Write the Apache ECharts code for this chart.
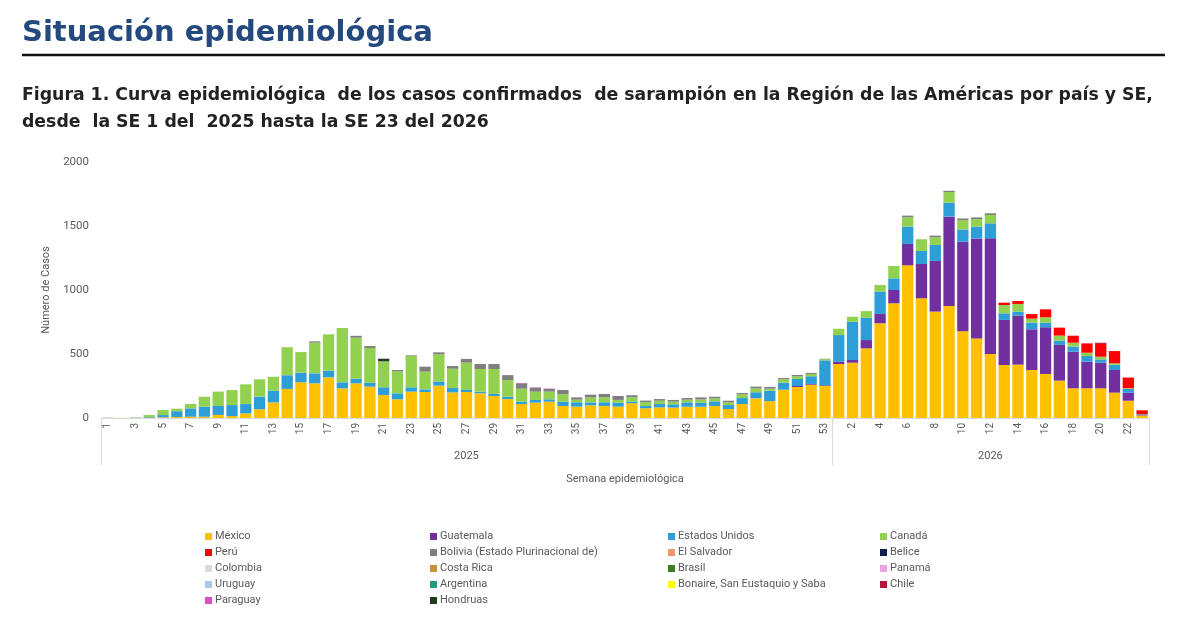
<!DOCTYPE html>
<html>
<head>
<meta charset="utf-8">
<script src="https://cdn.jsdelivr.net/npm/echarts@6/dist/echarts.min.js"></script>
<style>html,body{margin:0;padding:0;background:#fff;}#c{width:1200px;height:644px;}</style>
</head>
<body>
<div id="c"></div>
<script>
// ---- Tick labels / categories ----
const weekNumbers = [
  1,2,3,4,5,6,7,8,9,10,11,12,13,14,15,16,17,18,19,20,21,22,23,24,25,26,27,28,29,30,
  31,32,33,34,35,36,37,38,39,40,41,42,43,44,45,46,47,48,49,50,51,52,53,
  1,2,3,4,5,6,7,8,9,10,11,12,13,14,15,16,17,18,19,20,21,22,23
];
const yearLabels = ['2025', '2026'];
const weeksPerYear = [53, 23];
const yTicks = [0, 500, 1000, 1500, 2000];

// ---- Series values (2025 SE1-53, then 2026 SE1-23) ----
const mexico = [
  0,0,0,3,5,8,10,10,24,15, 36,68,122,227,279,271,318,232,271,245, 180,146,206,203,253,200,203,193,172,148,
  109,120,128,94,89,99,94,89,115,76, 83,81,88,88,94,70,109,154,132,221, 242,260,250,
  422,432,544,740,896,1193,935,831,875,677, 622,500,414,417,375,344,292,232,232,232, 198,135,20
];
const guatemala = [
  0,0,0,0,0,0,0,0,0,0, 0,0,0,0,0,0,0,0,0,0, 0,0,0,0,0,0,0,0,0,0,
  0,0,0,0,0,0,0,0,0,0, 0,0,0,0,0,0,0,0,0,0, 8,6,5,
  18,21,65,73,104,167,268,396,698,700, 781,904,352,383,318,365,279,286,208,200, 177,62,5
];
const estadosUnidos = [
  0,0,2,5,18,45,65,78,70,86, 73,99,91,107,75,78,52,47,36,31, 60,47,34,21,31,34,16,13,16,18,
  18,21,18,34,34,23,29,31,13,18, 26,26,34,31,36,31,47,47,81,55, 55,60,195,
  208,299,174,174,91,135,102,125,109,96, 91,117,52,31,52,36,34,39,44,26, 40,30,5
];
const canada = [
  3,1,3,15,39,20,34,78,112,117, 154,135,109,219,161,240,284,424,320,271, 203,172,245,138,213,151,214,177,195,130,
  102,65,60,57,20,39,39,21,34,29, 26,21,21,26,23,21,29,31,16,26, 21,18,10,
  49,39,52,52,96,73,91,60,83,73, 60,65,65,60,31,42,39,31,26,21, 12,6,0
];
const peru = [
  0,0,0,0,0,0,0,0,0,0, 0,0,0,0,0,0,0,0,0,0, 0,0,0,0,0,0,0,0,0,0,
  0,0,0,0,0,0,0,0,0,0, 0,0,0,0,0,0,0,0,0,0, 0,0,0,
  0,0,0,0,0,0,0,0,0,0, 0,0,18,23,36,62,62,55,73,100, 96,83,30
];
const bolivia = [
  0,0,0,0,0,0,0,0,0,0, 0,0,0,0,0,10,0,0,15,15, 0,10,5,39,16,21,29,39,39,39,
  42,31,21,34,18,21,26,31,16,13, 13,13,13,16,13,13,10,13,13,10, 10,8,3,
  0,0,0,0,0,13,0,13,10,13, 13,13,0,0,0,0,0,0,0,0, 0,0,0
];
const elSalvador = [
  0,0,0,0,0,0,0,0,0,0, 0,0,0,0,0,0,0,0,0,0, 0,0,0,0,0,0,0,0,0,0,
  0,0,0,0,0,0,0,0,0,0, 0,0,0,0,0,0,0,0,0,0, 0,0,0,
  0,0,0,0,0,0,0,0,0,0, 0,0,0,0,0,0,0,0,0,0, 0,0,0
];
const belice = [
  0,0,0,0,0,0,0,0,0,0, 0,0,0,0,0,0,0,0,0,0, 0,0,0,0,0,0,0,0,0,0,
  0,0,0,0,0,0,0,0,0,0, 0,0,0,0,0,0,0,0,0,0, 0,0,0,
  0,0,0,0,0,0,0,0,0,0, 0,0,0,0,0,0,0,0,0,0, 0,0,0
];
const colombia = [
  5,0,2,0,0,0,0,0,0,0, 0,0,0,0,0,0,0,0,0,0, 0,0,0,0,0,0,0,0,0,0,
  0,0,0,0,0,0,0,0,0,0, 0,0,0,0,0,0,0,0,0,0, 0,0,0,
  0,0,0,0,0,0,0,0,0,0, 0,0,0,0,0,0,0,0,0,0, 0,0,0
];
const costaRica = [
  0,0,0,0,0,0,0,0,0,0, 0,0,0,0,0,0,0,0,0,0, 0,0,0,0,0,0,0,0,0,0,
  0,0,0,0,0,0,0,0,0,0, 0,0,0,0,0,0,0,0,0,0, 0,0,0,
  0,0,0,0,0,0,0,0,0,0, 0,0,0,0,0,0,0,0,0,0, 0,0,0
];
const brasil = [
  0,0,0,0,0,0,0,0,0,0, 0,0,0,0,0,0,0,0,0,0, 0,0,0,0,0,0,0,0,0,0,
  0,0,0,0,0,0,0,0,0,0, 0,0,0,0,0,0,0,0,0,0, 0,0,0,
  0,0,0,0,0,0,0,0,0,0, 0,0,0,0,0,0,0,0,0,0, 0,0,0
];
const panama = [
  0,0,0,0,0,0,0,0,0,0, 0,0,0,0,0,0,0,0,0,0, 0,0,0,0,0,0,0,0,0,0,
  0,0,0,0,0,0,0,0,0,0, 0,0,0,0,0,0,0,0,0,0, 0,0,0,
  0,0,0,0,0,0,0,0,0,0, 0,0,0,0,0,0,0,0,0,0, 0,0,0
];
const uruguay = [
  0,0,0,0,0,0,0,0,0,0, 0,0,0,0,0,0,0,0,0,0, 0,0,0,0,0,0,0,0,0,0,
  0,0,0,0,0,0,0,0,0,0, 0,0,0,0,0,0,0,0,0,0, 0,0,0,
  0,0,0,0,0,0,0,0,0,0, 0,0,0,0,0,0,0,0,0,0, 0,0,0
];
const argentina = [
  0,0,0,0,0,0,0,0,0,0, 0,0,0,0,0,0,0,0,0,0, 0,0,0,0,0,0,0,0,0,0,
  0,0,0,0,0,0,0,0,0,0, 0,0,0,0,0,0,0,0,0,0, 0,0,0,
  0,0,0,0,0,0,0,0,0,0, 0,0,0,0,0,0,0,0,0,0, 0,0,0
];
const bonaire = [
  0,0,0,0,0,0,0,0,0,0, 0,0,0,0,0,0,0,0,0,0, 0,0,0,0,0,0,0,0,0,0,
  0,0,0,0,0,0,0,0,0,0, 0,0,0,0,0,0,0,0,0,0, 0,0,0,
  0,0,0,0,0,0,0,0,0,0, 0,0,0,0,0,0,0,0,0,0, 0,0,0
];
const chile = [
  0,0,0,0,0,0,0,0,0,0, 0,0,0,0,0,0,0,0,0,0, 0,0,0,0,0,0,0,0,0,0,
  0,0,0,0,0,0,0,0,0,0, 0,0,0,0,0,0,0,0,0,0, 0,0,0,
  0,0,0,0,0,0,0,0,0,0, 0,0,0,0,0,0,0,0,0,9, 0,0,0
];
const paraguay = [
  0,0,0,0,0,0,0,0,0,0, 0,0,0,0,0,0,0,0,0,0, 0,0,0,0,0,0,0,0,0,0,
  3,3,3,0,0,0,0,0,0,0, 0,0,0,0,0,0,0,0,0,0, 0,0,0,
  0,0,0,0,0,0,0,0,0,0, 0,0,0,0,0,0,0,0,0,0, 0,0,0
];
const hondruas = [
  0,0,0,0,0,0,0,0,0,0, 0,0,0,0,0,0,0,0,0,0, 20,0,0,0,0,0,0,0,0,0,
  0,0,0,0,0,0,0,0,0,0, 0,0,0,0,0,0,0,0,0,0, 0,0,0,
  0,0,0,0,0,0,0,0,0,0, 0,0,0,0,0,0,0,0,0,0, 0,0,0
];

const countries = [
  ['México', mexico, '#FFC000'],
  ['Guatemala', guatemala, '#7030A0'],
  ['Estados Unidos', estadosUnidos, '#2E9ED8'],
  ['Canadá', canada, '#92D050'],
  ['Perú', peru, '#FF0000'],
  ['Bolivia (Estado Plurinacional de)', bolivia, '#7F7F7F'],
  ['El Salvador', elSalvador, '#F1956E'],
  ['Belice', belice, '#0C1F4F'],
  ['Colombia', colombia, '#D9D9D9'],
  ['Costa Rica', costaRica, '#C8913E'],
  ['Brasil', brasil, '#3B7D23'],
  ['Panamá', panama, '#E9A3E0'],
  ['Uruguay', uruguay, '#A9C9EA'],
  ['Argentina', argentina, '#1E9E7C'],
  ['Bonaire, San Eustaquio y Saba', bonaire, '#FFFF00'],
  ['Chile', chile, '#B3143A'],
  ['Paraguay', paraguay, '#D94DC5'],
  ['Hondruas', hondruas, '#1F3D1A']
];

// category keys (unique) built from year + week
const categories = [];
const yearStart = [];
let idx = 0;
weeksPerYear.forEach((n, y) => {
  yearStart.push(idx);
  for (let k = 0; k < n; k++) { categories.push(yearLabels[y] + '-' + weekNumbers[idx]); idx++; }
});
const yearCenter = yearStart.map((s, y) => s + Math.floor(weeksPerYear[y] / 2));

const names = countries.map(c => c[0]);
const cols = 4;
const legendCols = [];
for (let c = 0; c < cols; c++) legendCols.push(names.filter((_, i) => i % cols === c));
const legendLeft = [200, 425, 663, 875];

const chart = echarts.init(document.getElementById('c'));
const FONT = 'Roboto, "Noto Sans", sans-serif';
const TITLE_FONT = '"DejaVu Sans", Verdana, sans-serif';
chart.setOption({
  animation: false,
  backgroundColor: '#ffffff',
  textStyle: { fontFamily: FONT },
  title: [
    { text: 'Situación epidemiológica', left: 22, top: 19, padding: 0,
      textStyle: { fontFamily: TITLE_FONT, fontSize: 29, fontWeight: 'bold', color: '#24497E' } },
    { text: 'Figura 1. Curva epidemiológica  de los casos confirmados  de sarampión en la Región de las Américas por país y SE,\ndesde  la SE 1 del  2025 hasta la SE 23 del 2026',
      left: 22, top: 82, padding: 0,
      textStyle: { fontFamily: TITLE_FONT, fontSize: 17.3, fontWeight: 'bold', color: '#222222', lineHeight: 27 } }
  ],
  graphic: [
    { type: 'line', shape: { x1: 22, y1: 55, x2: 1165, y2: 55 }, style: { stroke: '#111111', lineWidth: 2.5 } }
  ],
  legend: legendCols.map((d, c) => ({
    data: d, orient: 'vertical', left: legendLeft[c], top: 526,
    itemWidth: 7, itemHeight: 7, itemGap: 5, icon: 'rect',
    textStyle: { fontSize: 11, color: '#595959', padding: [0, 0, 0, -2] },
    selectedMode: false
  })),
  grid: { left: 101, right: 51, top: 162, bottom: 226, containLabel: false },
  xAxis: [
    {
      type: 'category', data: categories, position: 'bottom',
      axisLine: { show: true, lineStyle: { color: '#D9D9D9', width: 1 } },
      axisTick: { show: false },
      axisLabel: {
        interval: 1, rotate: 90, fontSize: 10, color: '#595959', margin: 5,
        formatter: (v, i) => String(weekNumbers[i])
      }
    },
    {
      type: 'category', data: categories, position: 'bottom', offset: 0,
      axisLine: { show: false },
      axisTick: { show: true, length: 47, lineStyle: { color: '#D9D9D9' },
        interval: (i) => yearStart.indexOf(i) >= 0 },
      axisLabel: {
        interval: (i) => yearCenter.indexOf(i) >= 0, fontSize: 11, color: '#595959', margin: 33,
        formatter: (v, i) => yearLabels[yearCenter.indexOf(i)]
      },
      name: 'Semana epidemiológica', nameLocation: 'middle', nameGap: 56,
      nameTextStyle: { fontSize: 11, color: '#595959' }
    }
  ],
  yAxis: {
    type: 'value', min: yTicks[0], max: yTicks[yTicks.length - 1], interval: 500,
    axisLine: { show: false }, axisTick: { show: false },
    splitLine: { show: false },
    axisLabel: { fontSize: 11.5, color: '#595959', margin: 12, formatter: (v) => String(v) },
    name: 'Número de Casos', nameLocation: 'middle', nameGap: 47,
    nameTextStyle: { fontSize: 11, color: '#595959' }
  },
  series: countries.map(c => ({
    name: c[0], type: 'bar', stack: 'total', data: c[1], xAxisIndex: 0,
    itemStyle: { color: c[2] }, barCategoryGap: '18%'
  }))
});
</script>
</body>
</html>
